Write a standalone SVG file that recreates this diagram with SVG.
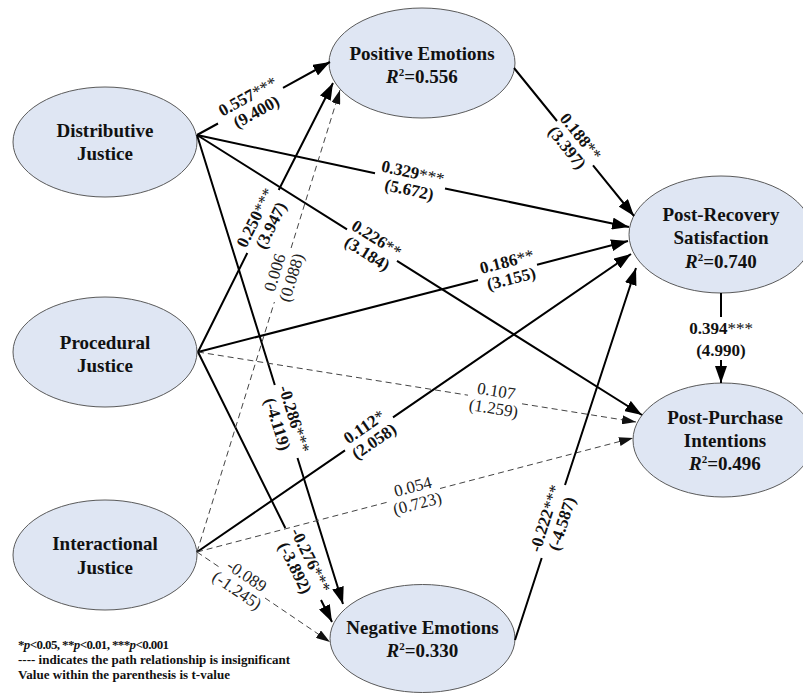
<svg xmlns="http://www.w3.org/2000/svg" width="803" height="695" viewBox="0 0 803 695">
<defs>
<style>
.node ellipse{fill:#dfe6f3;stroke:#5a5a5a;stroke-width:1}
.nt{font-family:"Liberation Serif","Times New Roman",serif;font-weight:bold;font-size:19px;fill:#111;text-anchor:middle}
.s{fill:none;stroke:#000;stroke-width:2;marker-end:url(#ah)}
.d{fill:none;stroke:#444;stroke-width:1;stroke-dasharray:6 4;marker-end:url(#ahd)}
.lb{font-family:"Liberation Serif","Times New Roman",serif;font-weight:bold;font-size:17px;fill:#111;text-anchor:middle}
.ln{font-family:"Liberation Serif","Times New Roman",serif;font-weight:normal;font-size:17px;fill:#222;text-anchor:middle}
.st{font-weight:normal}
.lg{font-family:"Liberation Serif","Times New Roman",serif;font-weight:bold;font-size:13px;fill:#111}
</style>
<marker id="ah" viewBox="0 0 17 12" refX="17" refY="6" markerWidth="17" markerHeight="12" orient="auto" markerUnits="userSpaceOnUse"><path d="M0,0 L17,6 L0,12 Z" fill="#000"/></marker>
<marker id="ahd" viewBox="0 0 14 9" refX="14" refY="4.5" markerWidth="14" markerHeight="9" orient="auto" markerUnits="userSpaceOnUse"><path d="M0,0 L14,4.5 L0,9 Z" fill="#111"/></marker>
</defs>
<rect width="803" height="695" fill="#fff"/>

<g id="nodes">
<g id="distributive" class="node"><ellipse cx="105" cy="142" rx="92" ry="55"/><text class="nt" x="105" y="136.5">Distributive</text><text class="nt" x="105" y="159.5">Justice</text></g>
<g id="procedural" class="node"><ellipse cx="105" cy="352" rx="92" ry="55"/><text class="nt" x="105" y="348.5">Procedural</text><text class="nt" x="105" y="371.5">Justice</text></g>
<g id="interactional" class="node"><ellipse cx="105" cy="555" rx="92" ry="55"/><text class="nt" x="105" y="549.5">Interactional</text><text class="nt" x="105" y="573.5">Justice</text></g>
<g id="positive" class="node"><ellipse cx="422" cy="63" rx="93" ry="55"/><text class="nt" x="422" y="59.5">Positive Emotions</text><text class="nt" x="422" y="82.5"><tspan font-style="italic">R</tspan><tspan font-size="11" dy="-7">2</tspan><tspan dy="7">=0.556</tspan></text></g>
<g id="negative" class="node"><ellipse cx="422.5" cy="638.5" rx="92.5" ry="54"/><text class="nt" x="422.5" y="633.5">Negative Emotions</text><text class="nt" x="422.5" y="656.5"><tspan font-style="italic">R</tspan><tspan font-size="11" dy="-7">2</tspan><tspan dy="7">=0.330</tspan></text></g>
<g id="satisfaction" class="node"><ellipse cx="721" cy="234.5" rx="92" ry="58.5"/><text class="nt" x="721" y="221">Post-Recovery</text><text class="nt" x="721" y="244">Satisfaction</text><text class="nt" x="721" y="267.5"><tspan font-style="italic">R</tspan><tspan font-size="11" dy="-7">2</tspan><tspan dy="7">=0.740</tspan></text></g>
<g id="intentions" class="node"><ellipse cx="723" cy="440" rx="90" ry="57"/><text class="nt" x="725" y="423.5">Post-Purchase</text><text class="nt" x="725" y="446.5">Intentions</text><text class="nt" x="725" y="469.5"><tspan font-style="italic">R</tspan><tspan font-size="11" dy="-7">2</tspan><tspan dy="7">=0.496</tspan></text></g>
</g>

<g id="connectors">
<g id="e-dist-pos"><path class="s" d="M197,135 L218,123.5 M283,87.8 L330,62"/>
<g transform="translate(252,104) rotate(-28.8)"><text class="lb" y="-3">0.557<tspan class="st">***</tspan></text><text class="lb" y="14.5">(9.400)</text></g></g>

<g id="e-dist-sat"><path class="s" d="M197,135 L375,173.3 M445,188.4 L629,227"/>
<g transform="translate(411,181) rotate(12.15)"><text class="lb" y="-3">0.329<tspan class="st">***</tspan></text><text class="lb" y="14.5">(5.672)</text></g></g>

<g id="e-dist-int"><path class="s" d="M197,135 L347,229.4 M397,260.9 L642,415"/>
<g transform="translate(372,246) rotate(32.2)"><text class="lb" y="-3">0.226<tspan class="st">**</tspan></text><text class="lb" y="14.5">(3.184)</text></g></g>

<g id="e-dist-neg"><path class="s" d="M197,135 L274.8,385 M297.5,458 L343,604"/>
<g transform="translate(286,421.5) rotate(72.7)"><text class="lb" y="-3">-0.286<tspan class="st">***</tspan></text><text class="lb" y="14.5">(-4.119)</text></g></g>

<g id="e-proc-pos"><path class="s" d="M198,352 L247.3,253 M278.7,190 L333,83"/>
<g transform="translate(263,221.5) rotate(-63.5)"><text class="lb" y="-3">0.250<tspan class="st">***</tspan></text><text class="lb" y="14.5">(3.947)</text></g></g>

<g id="e-proc-sat"><path class="s" d="M198,352 L478,280 M537,264.7 L628,241"/>
<g transform="translate(509,270) rotate(-14.4)"><text class="lb" y="-3">0.186<tspan class="st">**</tspan></text><text class="lb" y="14.5">(3.155)</text></g></g>

<g id="e-proc-int"><path class="d" d="M198,352 L468,395.2 M522,403.8 L636,422"/>
<g transform="translate(495,399.5) rotate(9.1)"><text class="ln" y="-3">0.107</text><text class="ln" y="14.5">(1.259)</text></g></g>

<g id="e-proc-neg"><path class="s" d="M198,352 L285.3,528 M321,600 L332,622"/>
<g transform="translate(303,564) rotate(63.6)"><text class="lb" y="-3">-0.276<tspan class="st">***</tspan></text><text class="lb" y="14.5">(-3.892)</text></g></g>

<g id="e-inter-pos"><path class="d" d="M197,552 L274.4,302 M291.1,248 L340,90"/>
<g transform="translate(283,275) rotate(-72.8)"><text class="ln" y="-3">0.006</text><text class="ln" y="14.5">(0.088)</text></g></g>

<g id="e-inter-sat"><path class="s" d="M197,552 L345,450.4 M393,417.4 L631,254"/>
<g transform="translate(369,434) rotate(-34.5)"><text class="lb" y="-3">0.112<tspan class="st">*</tspan></text><text class="lb" y="14.5">(2.058)</text></g></g>

<g id="e-inter-int"><path class="d" d="M197,552 L390,501.5 M440,488.5 L633,438"/>
<g transform="translate(415,495) rotate(-14.65)"><text class="ln" y="-3">0.054</text><text class="ln" y="14.5">(0.723)</text></g></g>

<g id="e-inter-neg"><path class="d" d="M197,552 L220,567.6 M265,598 L330,642"/>
<g transform="translate(242,583) rotate(34.1)"><text class="ln" y="-3">-0.089</text><text class="ln" y="14.5">(-1.245)</text></g></g>

<g id="e-pos-sat"><path class="s" d="M514,68 L557,121 M593,165.4 L634,216"/>
<g transform="translate(574,142) rotate(51)"><text class="lb" y="-3">0.188<tspan class="st">**</tspan></text><text class="lb" y="14.5">(3.397)</text></g></g>

<g id="e-neg-sat"><path class="s" d="M515,640 L541.7,558 M565,485 L636,268"/>
<g transform="translate(553.5,521) rotate(-72)"><text class="lb" y="-3">-0.222<tspan class="st">***</tspan></text><text class="lb" y="14.5">(-4.587)</text></g></g>

<g id="e-sat-int"><path class="s" d="M721,293 L721,317 M721,360 L721,383"/>
<text class="lb" x="721" y="334">0.394<tspan class="st">***</tspan></text><text class="lb" x="721" y="356">(4.990)</text></g>
</g>

<g id="legend">
<text class="lg" x="18" y="649" textLength="151">*<tspan font-style="italic">p</tspan>&lt;0.05, **<tspan font-style="italic">p</tspan>&lt;0.01, ***<tspan font-style="italic">p</tspan>&lt;0.001</text>
<text class="lg" x="18" y="664" textLength="272">---- indicates the path relationship is insignificant</text>
<text class="lg" x="18" y="679" textLength="212">Value within the parenthesis is t-value</text>
</g>
</svg>
